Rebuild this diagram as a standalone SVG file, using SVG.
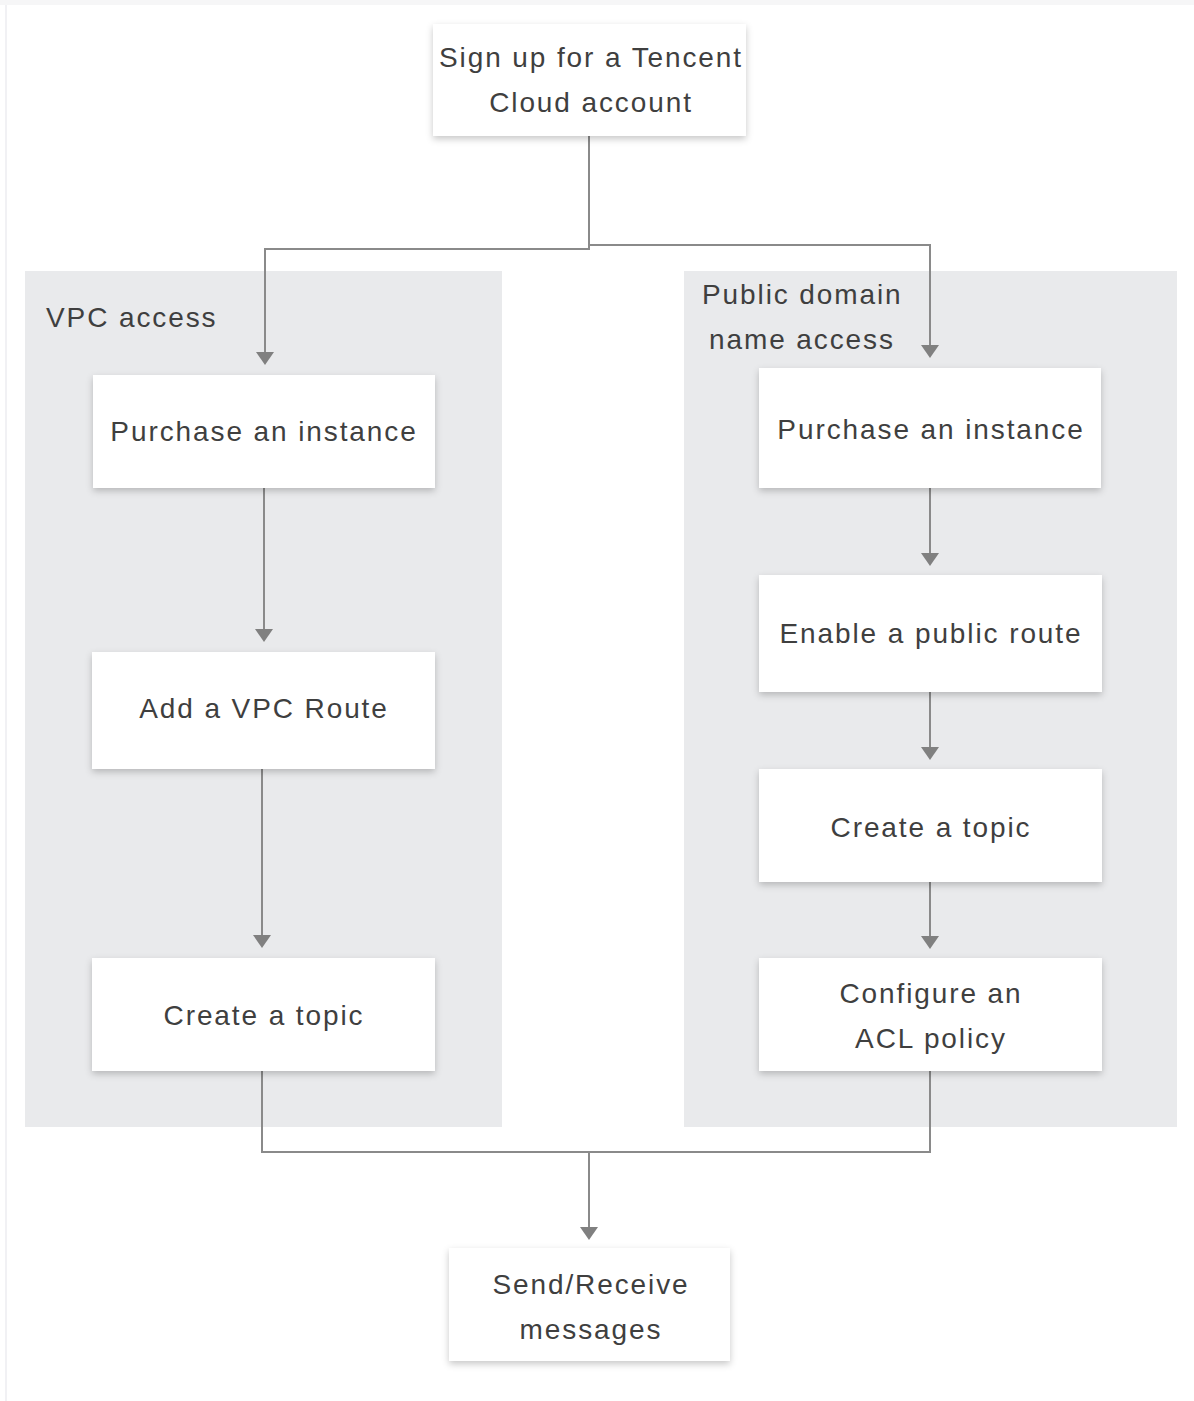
<svg xmlns="http://www.w3.org/2000/svg" width="1194" height="1401" viewBox="0 0 1194 1401">
<defs>
<style>
.node{fill:#ffffff;filter:url(#sh)}
.grp{fill:#e9eaec}
.t{font-family:"Liberation Sans",Arial,sans-serif;font-size:28px;letter-spacing:1.9px;fill:#3f3f3f;text-anchor:middle}
.tl{font-family:"Liberation Sans",Arial,sans-serif;font-size:28px;letter-spacing:1.9px;fill:#3f3f3f}
.cn{fill:none;stroke:#8a8a8a;stroke-width:2}
.ah{fill:#808080}
</style>
<filter id="sh" x="-10%" y="-20%" width="120%" height="150%">
<feDropShadow dx="0" dy="3" stdDeviation="3.5" flood-color="#000" flood-opacity="0.22"/>
</filter>
</defs>
<rect x="0" y="0" width="1194" height="1401" fill="#ffffff"/>
<rect x="0" y="0" width="1194" height="5" fill="#f6f6f7"/>
<rect x="5" y="5" width="2" height="1396" fill="#f1f1f4"/>
<g id="group-vpc">
<rect class="grp" x="25" y="271" width="477" height="856"/>
<text class="tl" x="46" y="327">VPC access</text>
</g>
<g id="group-public">
<rect class="grp" x="684" y="271" width="493" height="856"/>
<text class="tl" x="702" y="304">Public domain</text>
<text class="tl" x="709" y="349">name access</text>
</g>
<g id="connectors">
<polyline class="cn" points="589,136 589,249 265,249 265,352"/>
<polygon class="ah" points="256,352 274,352 265,365"/>
<polyline class="cn" points="589,245 930,245 930,345"/>
<polygon class="ah" points="921,345 939,345 930,358"/>
<line class="cn" x1="264" y1="488" x2="264" y2="629"/>
<polygon class="ah" points="255,629 273,629 264,642"/>
<line class="cn" x1="262" y1="769" x2="262" y2="935"/>
<polygon class="ah" points="253,935 271,935 262,948"/>
<line class="cn" x1="930" y1="488" x2="930" y2="553"/>
<polygon class="ah" points="921,553 939,553 930,566"/>
<line class="cn" x1="930" y1="692" x2="930" y2="747"/>
<polygon class="ah" points="921,747 939,747 930,760"/>
<line class="cn" x1="930" y1="882" x2="930" y2="936"/>
<polygon class="ah" points="921,936 939,936 930,949"/>
<polyline class="cn" points="262,1071 262,1152 930,1152 930,1071"/>
<line class="cn" x1="589" y1="1152" x2="589" y2="1227"/>
<polygon class="ah" points="580,1227 598,1227 589,1240"/>
</g>
<g id="node-signup">
<rect class="node" x="433" y="24" width="313" height="112"/>
<text class="t" x="591" y="67">Sign up for a Tencent</text>
<text class="t" x="591" y="112">Cloud account</text>
</g>
<g id="node-vpc-purchase">
<rect class="node" x="93" y="375" width="342" height="113"/>
<text class="t" x="264" y="441">Purchase an instance</text>
</g>
<g id="node-vpc-route">
<rect class="node" x="92" y="652" width="343" height="117"/>
<text class="t" x="264" y="718">Add a VPC Route</text>
</g>
<g id="node-vpc-topic">
<rect class="node" x="92" y="958" width="343" height="113"/>
<text class="t" x="264" y="1025">Create a topic</text>
</g>
<g id="node-pub-purchase">
<rect class="node" x="759" y="368" width="342" height="120"/>
<text class="t" x="931" y="439">Purchase an instance</text>
</g>
<g id="node-pub-route">
<rect class="node" x="759" y="575" width="343" height="117"/>
<text class="t" x="931" y="643">Enable a public route</text>
</g>
<g id="node-pub-topic">
<rect class="node" x="759" y="769" width="343" height="113"/>
<text class="t" x="931" y="837">Create a topic</text>
</g>
<g id="node-pub-acl">
<rect class="node" x="759" y="958" width="343" height="113"/>
<text class="t" x="931" y="1003">Configure an</text>
<text class="t" x="931" y="1048">ACL policy</text>
</g>
<g id="node-send">
<rect class="node" x="449" y="1248" width="281" height="113"/>
<text class="t" x="591" y="1294">Send/Receive</text>
<text class="t" x="591" y="1339">messages</text>
</g>
</svg>
